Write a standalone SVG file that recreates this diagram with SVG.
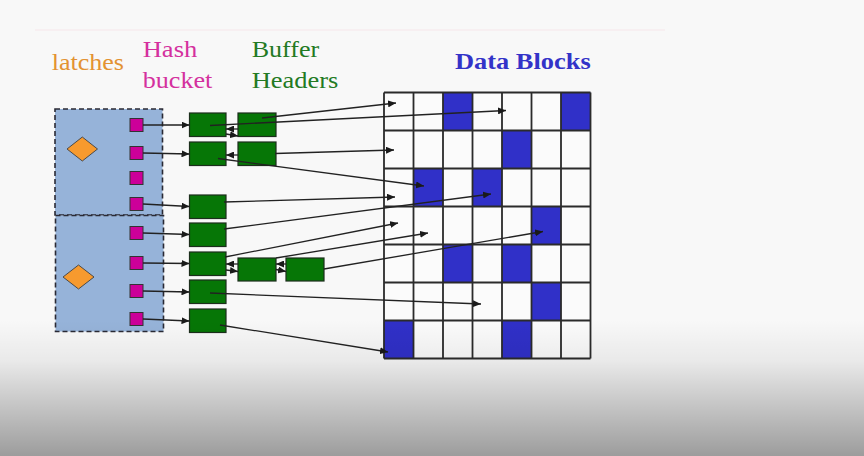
<svg xmlns="http://www.w3.org/2000/svg" width="864" height="456" viewBox="0 0 864 456">
<defs>
<marker id="ah" markerUnits="userSpaceOnUse" markerWidth="9" markerHeight="7" refX="8" refY="3.5" orient="auto">
<path d="M0,0 L8,3.5 L0,7 z" fill="#1a1a1a"/>
</marker>
<linearGradient id="shade" x1="0" y1="0" x2="0" y2="1">
<stop offset="0" stop-color="#000" stop-opacity="0"/>
<stop offset="0.3" stop-color="#000" stop-opacity="0.06"/>
<stop offset="1" stop-color="#000" stop-opacity="0.37"/>
</linearGradient>
<style>
.lbl{font-family:"Liberation Serif","Times New Roman",serif;font-size:23.5px}
.latch{fill:#96b3d9;stroke:#2a2a35;stroke-width:1.6;stroke-dasharray:5 3}
.dia{fill:#f79a2e;stroke:#4a4a4a;stroke-width:1}
.hb{fill:#cc0099;stroke:#333;stroke-width:1}
.bh{fill:#067606;stroke:#1c2e1c;stroke-width:1.2}
.blk{fill:#3030c8}
.cn{stroke:#222;stroke-width:1.3;fill:none;marker-end:url(#ah)}
</style>
</defs>
<rect width="864" height="456" fill="#f8f8f8"/>
<line x1="35" y1="30" x2="665" y2="30" stroke="#f6e6e9" stroke-width="1.2"/>

<g id="titles">
<text class="lbl" x="51.7" y="70" fill="#e39232" textLength="72.3" lengthAdjust="spacingAndGlyphs">latches</text>
<text class="lbl" x="142.7" y="57.3" fill="#d4309e" textLength="54.6" lengthAdjust="spacingAndGlyphs">Hash</text>
<text class="lbl" x="142.7" y="88.3" fill="#d4309e" textLength="69.6" lengthAdjust="spacingAndGlyphs">bucket</text>
<text class="lbl" x="251.7" y="57.3" fill="#237a23" textLength="67.6" lengthAdjust="spacingAndGlyphs">Buffer</text>
<text class="lbl" x="251.7" y="88.3" fill="#237a23" textLength="86.6" lengthAdjust="spacingAndGlyphs">Headers</text>
<text class="lbl" x="455" y="69.3" fill="#3333c8" font-weight="bold" font-size="24" textLength="135.7" lengthAdjust="spacingAndGlyphs">Data Blocks</text>
</g>

<g id="latch1">
<rect class="latch" x="55" y="109" width="107.5" height="106"/>
<path class="dia" d="M82.3,137 L97.5,149 L82.3,161 L67,149 z"/>
</g>
<g id="latch2">
<rect class="latch" x="55.5" y="215.5" width="108" height="116"/>
<path class="dia" d="M78.5,265 L94,277 L78.5,289 L63,277 z"/>
</g>

<g id="buckets">
<rect class="hb" x="130" y="118.5" width="13" height="13"/>
<rect class="hb" x="130" y="146.5" width="13" height="13"/>
<rect class="hb" x="130" y="171.5" width="13" height="13"/>
<rect class="hb" x="130" y="197.5" width="13" height="13"/>
<rect class="hb" x="130" y="226.5" width="13" height="13"/>
<rect class="hb" x="130" y="256.5" width="13" height="13"/>
<rect class="hb" x="130" y="284.5" width="13" height="13"/>
<rect class="hb" x="130" y="312.5" width="13" height="13"/>
</g>

<g id="headers">
<rect class="bh" x="189.5" y="113" width="36.5" height="23.5"/>
<rect class="bh" x="189.5" y="142" width="36.5" height="23.5"/>
<rect class="bh" x="189.5" y="195" width="36.5" height="23.5"/>
<rect class="bh" x="189.5" y="223" width="36.5" height="23.5"/>
<rect class="bh" x="189.5" y="252" width="36.5" height="23.5"/>
<rect class="bh" x="189.5" y="280" width="36.5" height="23.5"/>
<rect class="bh" x="189.5" y="309" width="36.5" height="23.5"/>
<rect class="bh" x="238" y="113" width="38" height="23.5"/>
<rect class="bh" x="238" y="142" width="38" height="23.5"/>
<rect class="bh" x="238" y="258" width="38" height="23"/>
<rect class="bh" x="286" y="258" width="38" height="23"/>
</g>

<g id="datablocks">
<rect x="384" y="92.5" width="206.5" height="266" fill="#fbfbfb"/>
<rect class="blk" x="443" y="92.5" width="29.5" height="38"/>
<rect class="blk" x="561" y="92.5" width="29.5" height="38"/>
<rect class="blk" x="502" y="130.5" width="29.5" height="38"/>
<rect class="blk" x="413.5" y="168.5" width="29.5" height="38"/>
<rect class="blk" x="472.5" y="168.5" width="29.5" height="38"/>
<rect class="blk" x="531.5" y="206.5" width="29.5" height="38"/>
<rect class="blk" x="443" y="244.5" width="29.5" height="38"/>
<rect class="blk" x="502" y="244.5" width="29.5" height="38"/>
<rect class="blk" x="531.5" y="282.5" width="29.5" height="38"/>
<rect class="blk" x="384" y="320.5" width="29.5" height="38"/>
<rect class="blk" x="502" y="320.5" width="29.5" height="38"/>
<path d="M384,92.5V358.5M413.5,92.5V358.5M443,92.5V358.5M472.5,92.5V358.5M502,92.5V358.5M531.5,92.5V358.5M561,92.5V358.5M590.5,92.5V358.5M384,92.5H590.5M384,130.5H590.5M384,168.5H590.5M384,206.5H590.5M384,244.5H590.5M384,282.5H590.5M384,320.5H590.5M384,358.5H590.5" stroke="#2b2b2b" stroke-width="1.8" fill="none"/>
</g>

<g id="connectors">
<line class="cn" x1="143" y1="125" x2="189.5" y2="125"/>
<line class="cn" x1="143" y1="153" x2="189.5" y2="154"/>
<line class="cn" x1="143" y1="204" x2="189.5" y2="206.5"/>
<line class="cn" x1="143" y1="233" x2="189.5" y2="234.5"/>
<line class="cn" x1="143" y1="263" x2="189.5" y2="263.5"/>
<line class="cn" x1="143" y1="291" x2="189.5" y2="292"/>
<line class="cn" x1="143" y1="319" x2="189.5" y2="321"/>

<line class="cn" x1="238" y1="129" x2="226" y2="129"/>
<line class="cn" x1="226" y1="134" x2="238" y2="136"/>
<line class="cn" x1="238" y1="155" x2="226" y2="155"/>
<line class="cn" x1="238" y1="264" x2="226" y2="264"/>
<line class="cn" x1="226" y1="270" x2="238" y2="271.5"/>
<line class="cn" x1="286" y1="264" x2="276" y2="264"/>
<line class="cn" x1="276" y1="269.5" x2="286" y2="271.5"/>

<line class="cn" x1="262" y1="118" x2="396" y2="103"/>
<line class="cn" x1="210" y1="125.5" x2="506" y2="110.5"/>
<line class="cn" x1="275" y1="153.5" x2="394" y2="150"/>
<line class="cn" x1="218" y1="158.5" x2="424" y2="186"/>
<line class="cn" x1="224" y1="202" x2="395" y2="197"/>
<line class="cn" x1="224" y1="229" x2="491" y2="194"/>
<line class="cn" x1="225" y1="257" x2="398" y2="223"/>
<line class="cn" x1="276" y1="258" x2="428" y2="233"/>
<line class="cn" x1="324" y1="269" x2="543" y2="231.5"/>
<line class="cn" x1="210" y1="293" x2="481" y2="304"/>
<line class="cn" x1="220" y1="325" x2="388" y2="352"/>
</g>

<rect x="0" y="320" width="864" height="136" fill="url(#shade)"/>
</svg>
